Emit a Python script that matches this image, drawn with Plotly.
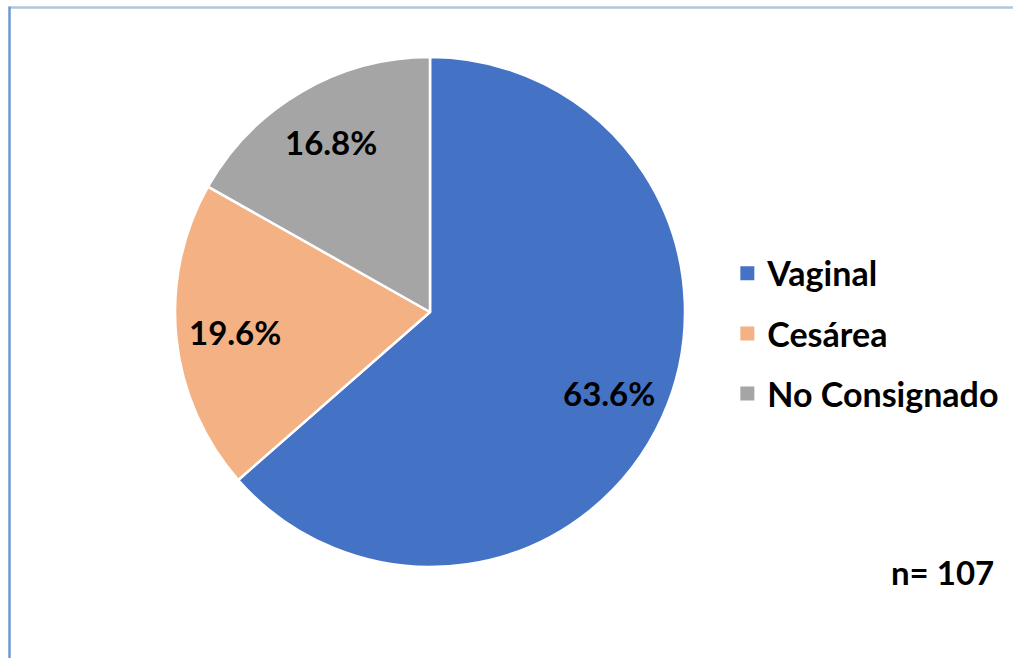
import math
import plotly.graph_objects as go

# Tipo de parto (n = 107)
categories = ["Vaginal", "Cesárea", "No Consignado"]
counts = [68, 21, 18]
colors = ["#4472C4", "#F4B183", "#A5A5A5"]
total = sum(counts)

FONT = "Lato"
W, H = 1013, 658
PIE_X = [0.1728, 0.6762]
PIE_Y = [0.1383, 0.9134]

fig = go.Figure()

fig.add_trace(go.Pie(
    labels=categories,
    values=counts,
    sort=False,
    direction="clockwise",
    rotation=0,
    marker=dict(colors=colors, line=dict(color="white", width=2.5)),
    textinfo="none",
    domain=dict(x=PIE_X, y=PIE_Y),
    showlegend=False,
    hoverinfo="label+value+percent",
))

# Percentage labels placed at ~77% of the radius along each slice's mid-angle
cx = (PIE_X[0] + PIE_X[1]) / 2 * W
cy = (PIE_Y[0] + PIE_Y[1]) / 2 * H
radius = (PIE_X[1] - PIE_X[0]) / 2 * W
annotations = []
cum = 0
for v in counts:
    mid = (cum + v / 2) / total * 2 * math.pi
    cum += v
    px = cx + 0.77 * radius * math.sin(mid)
    py = cy + 0.77 * radius * math.cos(mid)
    annotations.append(dict(
        text=f"{v / total * 100:.1f}%", x=px / W, y=py / H,
        xref="paper", yref="paper", showarrow=False,
        xanchor="center", yanchor="middle",
        font=dict(family=FONT, size=33, color="black", weight="bold"),
    ))

annotations.append(dict(
    text=f"n= {total}", x=0.983, y=0.13, xref="paper", yref="paper",
    xanchor="right", yanchor="middle", showarrow=False,
    font=dict(family=FONT, size=33, color="black", weight="bold"),
))

# Legend entries, one group per category for wider vertical spacing
for name, col in zip(categories, colors):
    fig.add_trace(go.Scatter(
        x=[None], y=[None], mode="markers", name=name,
        legendgroup=name,
        marker=dict(symbol="square", size=14, color=col),
        hoverinfo="skip",
    ))

fig.update_layout(
    width=W, height=H,
    margin=dict(l=0, r=0, t=0, b=0),
    paper_bgcolor="white", plot_bgcolor="white",
    xaxis=dict(visible=False), yaxis=dict(visible=False),
    font=dict(family=FONT, color="black"),
    legend=dict(
        x=0.718, y=0.493, xanchor="left", yanchor="middle",
        font=dict(family=FONT, size=34, color="black", weight="bold"),
        tracegroupgap=13, bgcolor="rgba(0,0,0,0)",
    ),
    annotations=annotations,
    shapes=[
        dict(type="line", xref="paper", yref="paper", x0=0.0095, x1=1.0,
             y0=1 - 7.5 / H, y1=1 - 7.5 / H,
             line=dict(color="#B4C4DC", width=2.5)),
        dict(type="line", xref="paper", yref="paper", x0=9.5 / W, x1=9.5 / W,
             y0=0, y1=1 - 6.5 / H,
             line=dict(color="#7097D4", width=2.5)),
    ],
)

fig.write_html("out.html")
